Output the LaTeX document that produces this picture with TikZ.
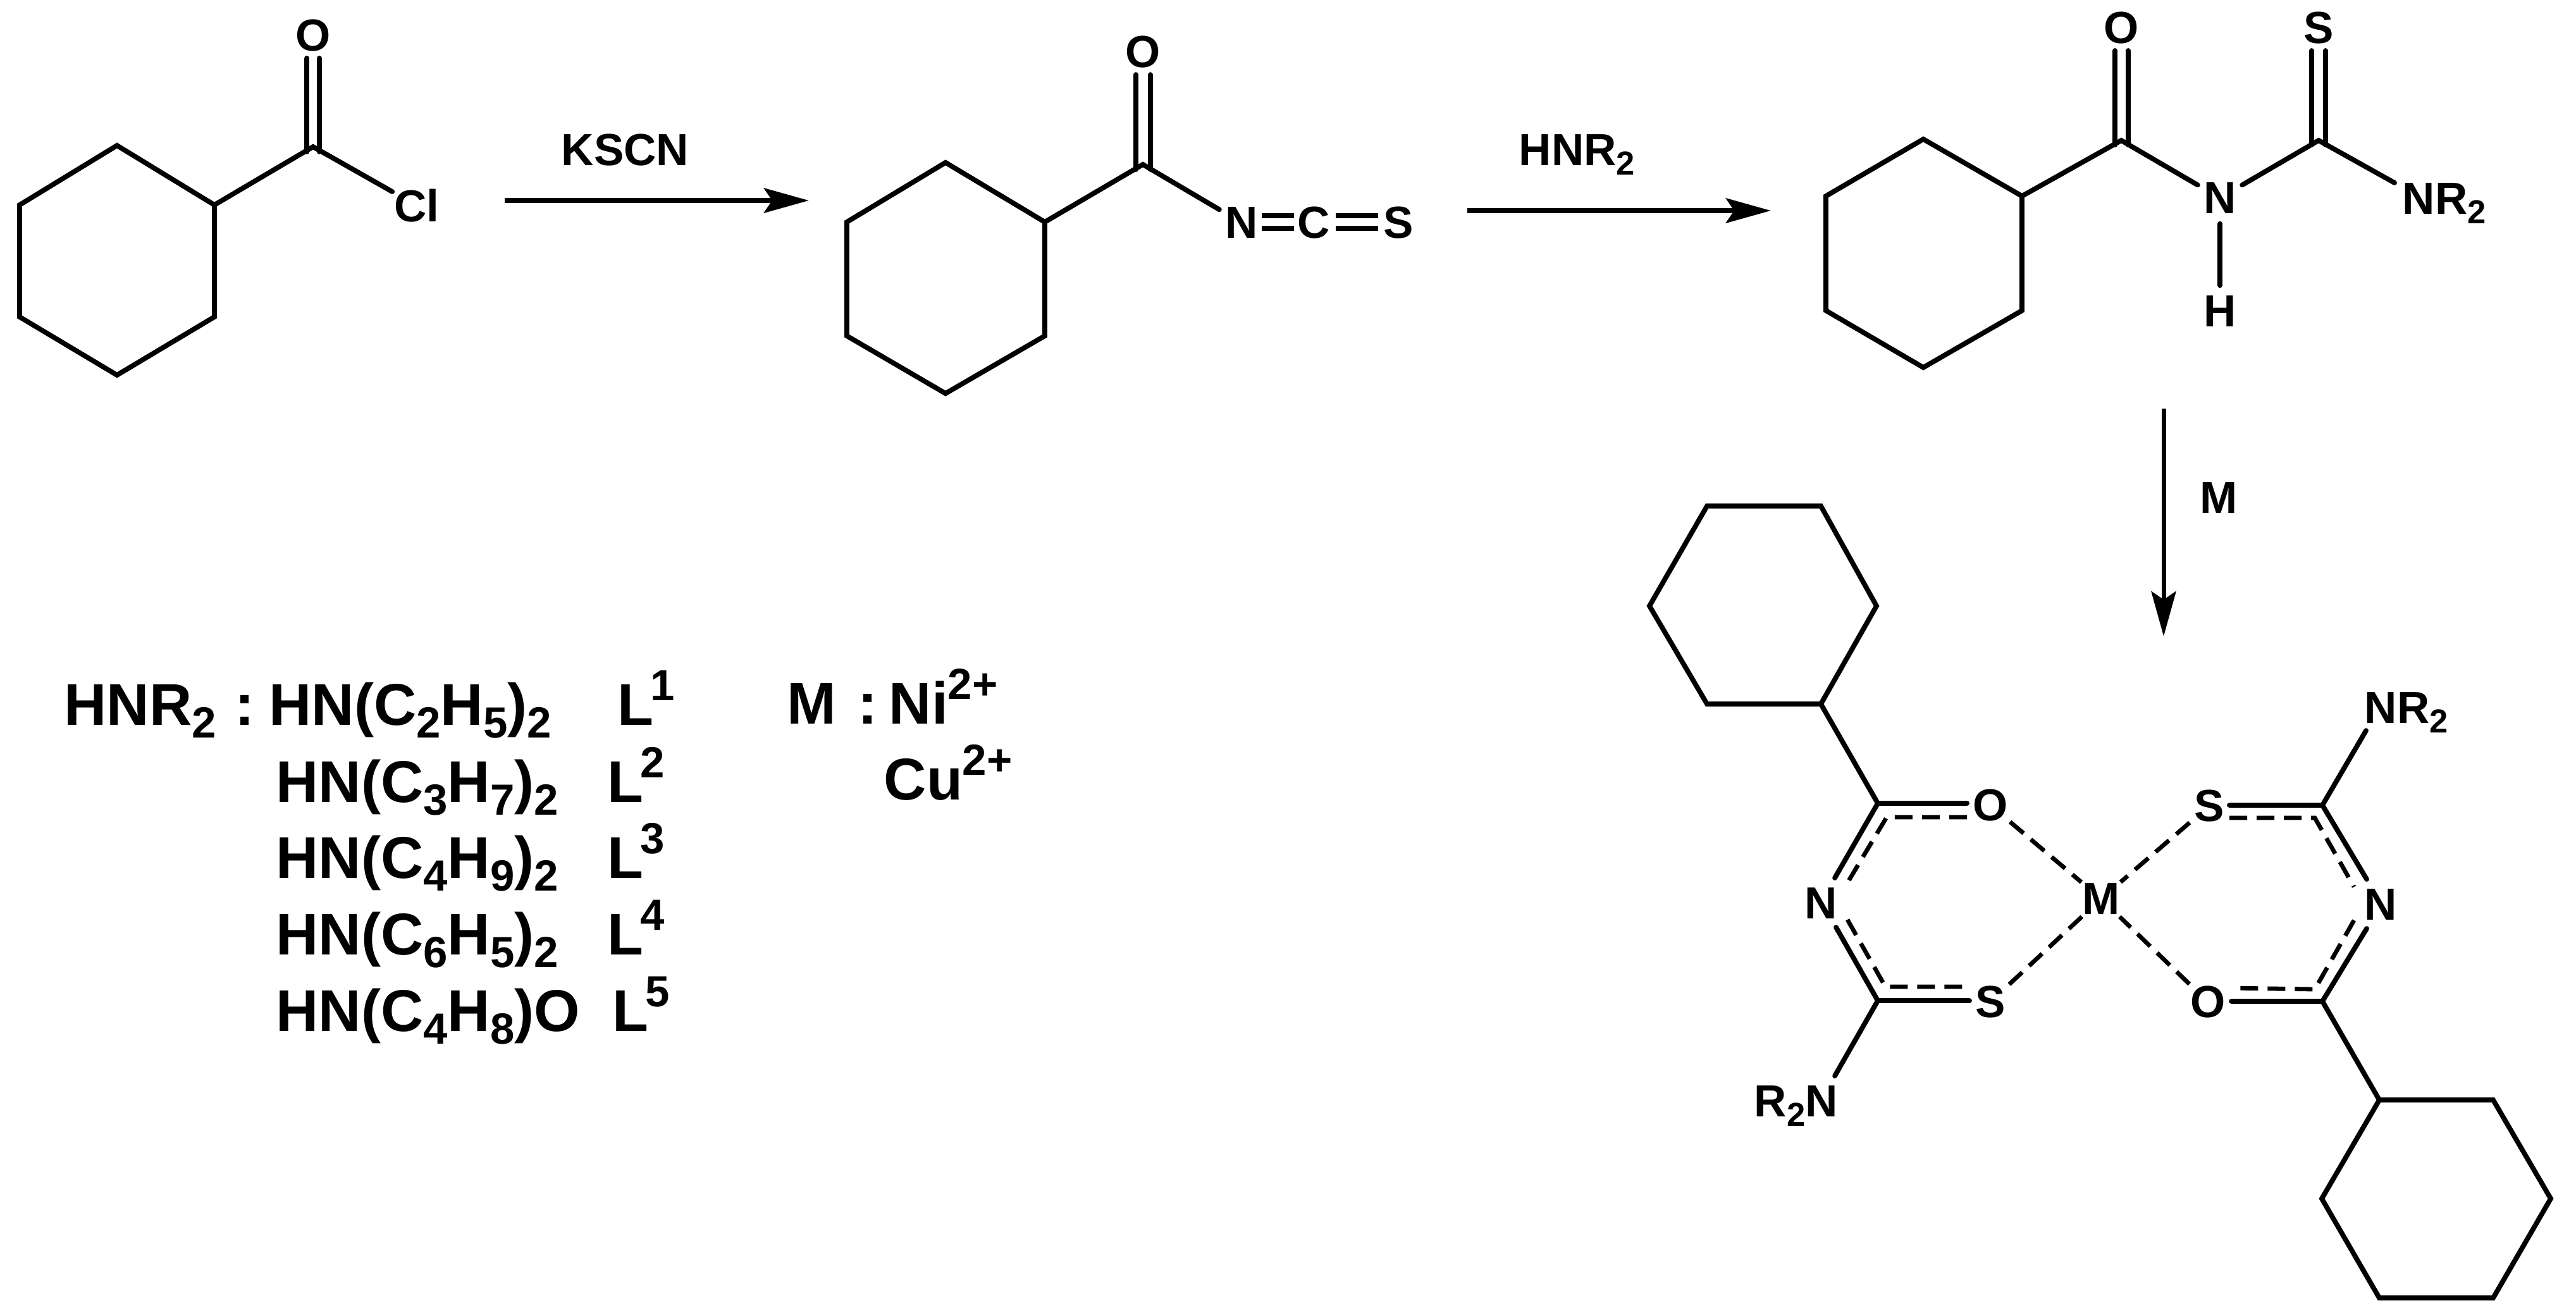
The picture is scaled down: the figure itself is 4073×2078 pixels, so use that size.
\documentclass[tikz,border=0pt]{standalone}
\usepackage{fontspec}
\usepackage{graphicx}
\setmainfont{Liberation Sans}
\usetikzlibrary{arrows.meta}
\newcommand{\Lsb}[1]{\raisebox{-.22em}{\scalebox{.74}{#1}}}
\newcommand{\Lsp}[1]{\raisebox{.41em}{\scalebox{.74}{#1}}}
\tikzset{
  bond/.style={line width=0.078cm,line cap=round,line join=miter,miter limit=10},
  dbond/.style={line width=0.068cm,dash pattern=on 0.28cm off 0.15cm},
  rxn/.style={line width=0.08cm,-{Stealth[length=0.71cm,width=0.39cm,inset=0.13cm]}},
  atom/.style={circle,inner sep=0pt,minimum size=0.8cm,font=\fontsize{20.2}{24}\selectfont\bfseries},
  lab/.style={inner sep=0pt,anchor=base west,font=\fontsize{20.2}{24}\selectfont\bfseries},
  big/.style={inner sep=0pt,anchor=base west,font=\fontsize{26.5}{30}\selectfont\bfseries},
}
\begin{document}
\begin{tikzpicture}[x=0.01cm,y=-0.01cm]
\useasboundingbox (0,0) rectangle (4073,2078);
\fill[white] (0,0) rectangle (4073,2078);
% --- acyl chloride
\coordinate (a1) at (185,230);\coordinate (a2) at (339,324);\coordinate (a3) at (339,501);
\coordinate (a4) at (185,593);\coordinate (a5) at (31,501);\coordinate (a6) at (31,324);
\coordinate (ac) at (495,232);
\coordinate (aol1) at (485,92);\coordinate (aol2) at (485,240);
\coordinate (aor1) at (505,92);\coordinate (aor2) at (505,240);
\node[atom] (ao) at (495,56) {O};
\node[atom] (acl) at (659,325) {Cl};
\draw[bond] (a1)--(a2)--(a3)--(a4)--(a5)--(a6)--cycle;
\draw[bond] (a2)--(ac)--(acl);
\draw[bond] (aol1)--(aol2);\draw[bond] (aor1)--(aor2);
% --- arrow 1
\coordinate (r1s) at (798,317);\coordinate (r1e) at (1279,317);
\draw[rxn] (r1s)--(r1e);
\node[lab] (kscn) at (887,261) {KSCN};
% --- isothiocyanate
\coordinate (b1) at (1495,257);\coordinate (b2) at (1652,351);\coordinate (b3) at (1652,531);
\coordinate (b4) at (1495,622);\coordinate (b5) at (1339,531);\coordinate (b6) at (1339,351);
\coordinate (bc) at (1807,260);
\coordinate (bol1) at (1796,118);\coordinate (bol2) at (1796,268);
\coordinate (bor1) at (1819,118);\coordinate (bor2) at (1819,268);
\node[atom] (bo) at (1807,82) {O};
\node[atom] (bn) at (1963,352) {N};
\node[atom] (bcc) at (2077,352) {C};
\node[atom] (bs) at (2211,352) {S};
\coordinate (n1a) at (1995,341);\coordinate (n1b) at (2046,341);
\coordinate (n2a) at (1995,361);\coordinate (n2b) at (2046,361);
\coordinate (s1a) at (2112,341);\coordinate (s1b) at (2179,341);
\coordinate (s2a) at (2112,361);\coordinate (s2b) at (2179,361);
\draw[bond] (b1)--(b2)--(b3)--(b4)--(b5)--(b6)--cycle;
\draw[bond] (b2)--(bc)--(bn);
\draw[bond] (bol1)--(bol2);\draw[bond] (bor1)--(bor2);
\draw[bond,line cap=butt] (n1a)--(n1b);\draw[bond,line cap=butt] (n2a)--(n2b);
\draw[bond,line cap=butt] (s1a)--(s1b);\draw[bond,line cap=butt] (s2a)--(s2b);
% --- arrow 2
\coordinate (r2s) at (2320,333);\coordinate (r2e) at (2800,333);
\draw[rxn] (r2s)--(r2e);
\node[lab] (hnr) at (2401,261) {HNR\Lsb{2}};
% --- thiourea
\coordinate (c1) at (3041,220);\coordinate (c2) at (3197,310);\coordinate (c3) at (3197,491);
\coordinate (c4) at (3041,581);\coordinate (c5) at (2887,491);\coordinate (c6) at (2887,310);
\coordinate (cc) at (3354,222);\coordinate (cd) at (3666,222);
\coordinate (col1) at (3344,80);\coordinate (col2) at (3344,229);
\coordinate (cor1) at (3365,80);\coordinate (cor2) at (3365,229);
\coordinate (csl1) at (3655,80);\coordinate (csl2) at (3655,229);
\coordinate (csr1) at (3677,80);\coordinate (csr2) at (3677,229);
\node[atom] (co) at (3354,44) {O};
\node[atom] (cs) at (3666,44) {S};
\node[atom] (cn) at (3510,313) {N};
\node[atom] (ch) at (3510,492) {H};
\node[lab] (cnr) at (3798,338) {NR\Lsb{2}};
\coordinate (cnrb) at (3786,289);
\draw[bond] (c1)--(c2)--(c3)--(c4)--(c5)--(c6)--cycle;
\draw[bond] (c2)--(cc)--(cn);
\draw[bond] (cn)--(cd)--(cnrb);
\draw[bond] (cn)--(ch);
\draw[bond] (col1)--(col2);\draw[bond] (cor1)--(cor2);
\draw[bond] (csl1)--(csl2);\draw[bond] (csr1)--(csr2);
% --- arrow 3
\coordinate (r3s) at (3421,646);\coordinate (r3e) at (3421,1006);
\draw[rxn,line width=0.07cm] (r3s)--(r3e);
\node[atom] (mlab) at (3508,787) {M};
% --- complex, upper hexagon
\coordinate (d1) at (2699,800);\coordinate (d2) at (2879,800);\coordinate (d3) at (2967,958);
\coordinate (d4) at (2879,1113);\coordinate (d5) at (2699,1113);\coordinate (d6) at (2608,958);
\draw[bond] (d1)--(d2)--(d3)--(d4)--(d5)--(d6)--cycle;
% --- complex, lower hexagon
\coordinate (e1) at (3762,1739);\coordinate (e2) at (3942,1739);\coordinate (e3) at (4033,1895);
\coordinate (e4) at (3942,2052);\coordinate (e5) at (3762,2052);\coordinate (e6) at (3671,1895);
\draw[bond] (e1)--(e2)--(e3)--(e4)--(e5)--(e6)--cycle;
% --- complex, atoms
\node[atom] (m) at (3322,1421) {M};
\node[atom] (lo) at (3147,1273) {O};
\node[atom] (ln) at (2879,1428) {N};
\node[atom] (ls) at (3147,1584) {S};
\node[atom] (rs) at (3493,1274) {S};
\node[atom] (rn) at (3764,1430) {N};
\node[atom] (ro) at (3491,1584) {O};
\node[lab] (lnr) at (2773,1765) {R\Lsb{2}N};
\node[lab] (rnr) at (3738,1143) {NR\Lsb{2}};
% left chelate
\coordinate (lc1) at (2969,1270);\coordinate (lc1i) at (2983,1292);
\coordinate (lc2) at (2969,1582);\coordinate (lc2i) at (2981,1560);
\coordinate (lo1) at (3110,1270);\coordinate (lo2) at (3110,1292);
\coordinate (ln1) at (2901,1388);\coordinate (ln2) at (2919,1399);
\coordinate (ln3) at (2903,1466);\coordinate (ln4) at (2921,1454);
\coordinate (ls1) at (3114,1582);\coordinate (ls2) at (3114,1560);
\coordinate (lnrb) at (2901,1701);
\draw[bond] (d4)--(lc1)--(lo1);
\draw[bond] (lc1)--(ln1);
\draw[bond] (ln3)--(lc2)--(ls1);
\draw[bond] (lc2)--(lnrb);
\draw[dbond] (lo2)--(lc1i)--(ln2);
\draw[dbond] (ln4)--(lc2i)--(ls2);
% right chelate
\coordinate (rc1) at (3672,1273);\coordinate (rc1i) at (3660,1293);
\coordinate (rc2) at (3672,1583);\coordinate (rc2i) at (3660,1564);
\coordinate (rs1) at (3525,1273);\coordinate (rs2) at (3525,1293);
\coordinate (rn1) at (3742,1390);\coordinate (rn2) at (3722,1402);
\coordinate (rn3) at (3742,1468);\coordinate (rn4) at (3722,1455);
\coordinate (ro1) at (3528,1583);\coordinate (ro2) at (3528,1562);
\coordinate (rnrb) at (3741,1155);
\draw[bond] (rs1)--(rc1)--(rn1);
\draw[bond] (rc1)--(rnrb);
\draw[bond] (rn3)--(rc2)--(ro1);
\draw[bond] (rc2)--(e1);
\draw[dbond] (rs2)--(rc1i)--(rn2);
\draw[dbond] (rn4)--(rc2i)--(ro2);
% coordination
\draw[dbond] (lo)--(m);
\draw[dbond] (ls)--(m);
\draw[dbond] (rs)--(m);
\draw[dbond] (ro)--(m);
% --- legend
\node[big] (t1) at (101,1146) {HNR\Lsb{2}};
\node[big] (t2) at (371,1146) {:};
\node[big] (t3) at (425,1146) {HN(C\Lsb{2}H\Lsb{5})\Lsb{2}};
\node[big] (l1) at (976,1146) {L\hspace{-.05em}\Lsp{1}};
\node[big] (t4) at (436,1268) {HN(C\Lsb{3}H\Lsb{7})\Lsb{2}};
\node[big] (l2) at (960,1268) {L\hspace{-.05em}\Lsp{2}};
\node[big] (t5) at (436,1388) {HN(C\Lsb{4}H\Lsb{9})\Lsb{2}};
\node[big] (l3) at (960,1388) {L\hspace{-.05em}\Lsp{3}};
\node[big] (t6) at (436,1509) {HN(C\Lsb{6}H\Lsb{5})\Lsb{2}};
\node[big] (l4) at (960,1509) {L\hspace{-.05em}\Lsp{4}};
\node[big] (t7) at (436,1630) {HN(C\Lsb{4}H\Lsb{8})O};
\node[big] (l5) at (968,1630) {L\hspace{-.05em}\Lsp{5}};
\node[big] (mm) at (1244,1144) {M};
\node[big] (mc) at (1356,1144) {:};
\node[big] (ni) at (1405,1144) {Ni\Lsp{2+}};
\node[big] (cu) at (1397,1264) {Cu\Lsp{2+}};
\end{tikzpicture}
\end{document}
